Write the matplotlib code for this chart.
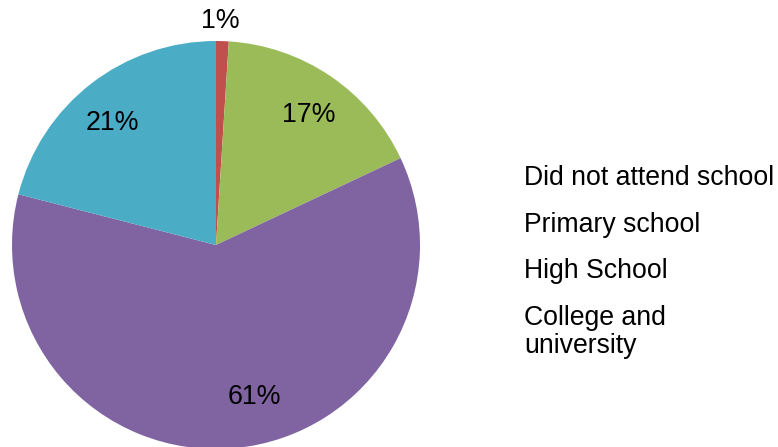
import matplotlib.pyplot as plt

plt.rcParams['font.family'] = ['Liberation Sans', 'DejaVu Sans']

labels = ['Did not attend school', 'Primary school', 'High School', 'College and\nuniversity']
shares = [1, 17, 61, 21]
colors = ['#C0504D', '#9BBB59', '#8064A2', '#4BACC6']
# where each percentage sits, in pie-radius units
label_pos = [(0.02, 1.10), (0.456, 0.637), (0.186, -0.745), (-0.51, 0.60)]

fig = plt.figure(figsize=(7.78, 4.47), dpi=100)
ax = fig.add_axes([12 / 778, -2 / 447, 408 / 778, 408 / 447])

wedges, texts, autotexts = ax.pie(shares, colors=colors, startangle=90, counterclock=False,
                                  autopct='%d%%', pctdistance=0.78,
                                  wedgeprops=dict(linewidth=0), textprops=dict(fontsize=19.3))
for w in wedges:
    w.set_clip_on(False)
for t, pos in zip(autotexts, label_pos):
    t.set_position(pos)
ax.set_xlim(-1, 1)
ax.set_ylim(-1, 1)

leg = fig.legend(wedges, labels, loc='upper left', bbox_to_anchor=(500 / 778, 1 - 141 / 447),
                 frameon=False, fontsize=19.2, handlelength=0, handletextpad=0,
                 labelspacing=0.77)
for h in leg.legend_handles:
    h.set_visible(False)
for t in leg.get_texts():
    t.set_linespacing(1.13)

plt.savefig('out.png', dpi=100)
plt.close()
